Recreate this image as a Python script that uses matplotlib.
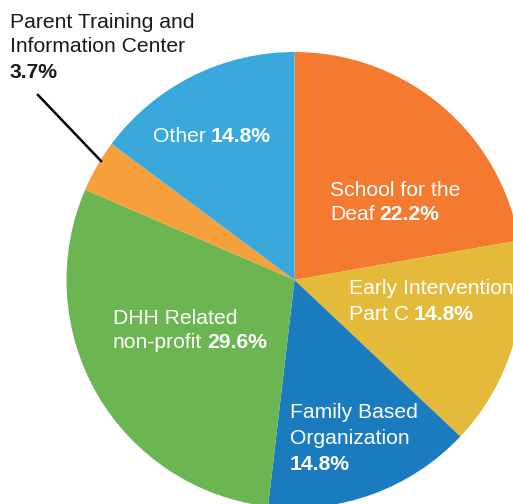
import matplotlib
matplotlib.use("Agg")
import matplotlib.pyplot as plt

# slice data, clockwise from 12 o'clock
labels = ["School for the Deaf", "Early Intervention Part C", "Family Based Organization",
          "DHH Related non-profit", "Parent Training and Information Center", "Other"]
shares = [22.2, 14.8, 14.8, 29.6, 3.7, 14.8]
colors = ["#F47A2F", "#E4BA3B", "#1B7BBF", "#6BB552", "#F6A03B", "#39A8DD"]

plt.rcParams['font.family'] = ['Liberation Sans', 'DejaVu Sans']

W, H = 513, 504
FS = 15.2
fig = plt.figure(figsize=(W / 100, H / 100), dpi=100)
ax = fig.add_axes([0, 0, 1, 1])

# pie center/radius in pixel units (y measured from bottom)
cx, cy, r = 294.5, H - 280, 228
ax.pie(shares, colors=colors, startangle=90, counterclock=False,
       radius=r, center=(cx, cy), frame=True,
       wedgeprops=dict(linewidth=0))
ax.set_xlim(0, W)
ax.set_ylim(0, H)
ax.axis('off')


def line(x, y, normal, bold="", color="white"):
    # y given from top of image
    yy = H - y
    if normal:
        t = ax.text(x, yy, normal, color=color, fontsize=FS, ha='left', va='center')
        if bold:
            ax.annotate(bold, xy=(1, 0.5), xycoords=t, xytext=(3.5, 0),
                        textcoords='offset points', color=color, fontsize=FS,
                        fontweight='bold', ha='left', va='center')
    else:
        ax.text(x, yy, bold, color=color, fontsize=FS, fontweight='bold',
                ha='left', va='center')


# School for the Deaf
line(330, 190, "School for the")
line(330, 215, "Deaf", f"{shares[0]}%")
# Early Intervention
line(349, 289, "Early Intervention")
line(349, 314, "Part C", f"{shares[1]}%")
# Family Based
line(290, 412, "Family Based")
line(290, 438, "Organization")
line(290, 464, "", f"{shares[2]}%")
# DHH
line(113, 318, "DHH Related")
line(113, 343, "non-profit", f"{shares[3]}%")
# Other
line(153, 137, "Other", f"{shares[5]}%")
# Parent Training (outside)
dark = "#1a1a1a"
line(10, 22, "Parent Training and", color=dark)
line(10, 47, "Information Center", color=dark)
line(10, 73, "", f"{shares[4]}%", color=dark)
ax.plot([38, 101], [H - 95, H - 161], color="black", linewidth=1.8)

fig.savefig("out.png", dpi=100)
